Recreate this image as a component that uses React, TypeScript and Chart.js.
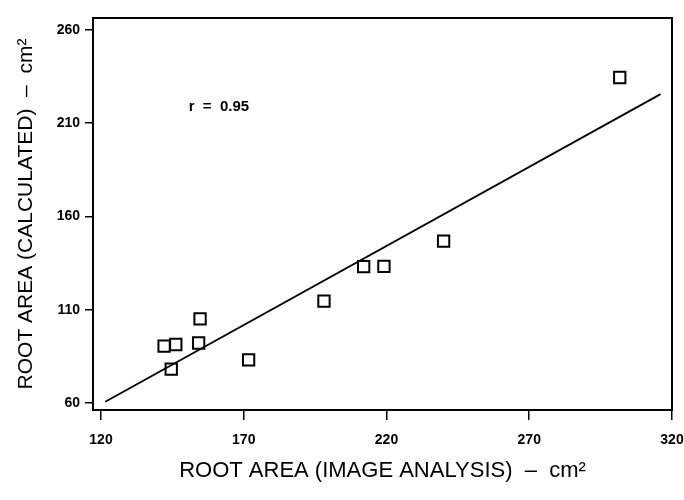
import React, { useEffect, useRef } from "react";
import { Chart, registerables } from "chart.js";

Chart.register(...registerables);

// Observed data points (image analysis vs calculated root area, cm²)
const imageArea = [142.1, 146.2, 154.7, 154.2, 144.6, 171.7, 198.1, 212.0, 219.1, 240.0, 301.7];
const calcArea = [90.5, 91.4, 105.1, 92.2, 78.2, 83.2, 114.7, 133.1, 133.3, 146.8, 234.5];

// Regression line end points
const fitX = [121.5, 316.0];
const fitY = [60.7, 225.6];

// Axis ticks
const xTicks = [120, 170, 220, 270, 320];
const yTicks = [60, 110, 160, 210, 260];
const xRange = [117.2, 320];
const yRange = [56.3, 266.4];

// Annotation
const rLabel = "r  =  0.95";
const rLabelPos = [161.3, 218.8];

const xTitle = "ROOT AREA (IMAGE ANALYSIS)  \u2013  cm\u00B2";
const yTitle = "ROOT AREA (CALCULATED)  \u2013  cm\u00B2";

const FONT = "'Liberation Sans', Arial, Helvetica, sans-serif";

export default function App() {
  const ref = useRef<HTMLCanvasElement | null>(null);

  useEffect(() => {
    if (!ref.current) return;

    const framePlugin = {
      id: "frame",
      afterDatasetsDraw(chart: any) {
        const { ctx, chartArea, scales } = chart;
        ctx.save();
        ctx.strokeStyle = "#000";
        ctx.lineWidth = 2;
        ctx.strokeRect(chartArea.left, chartArea.top, chartArea.right - chartArea.left, chartArea.bottom - chartArea.top);
        ctx.fillStyle = "#000";
        ctx.font = `bold 15px ${FONT}`;
        ctx.textAlign = "center";
        ctx.textBaseline = "middle";
        ctx.fillText(rLabel, scales.x.getPixelForValue(rLabelPos[0]), scales.y.getPixelForValue(rLabelPos[1]));
        ctx.restore();
      },
    };

    const chart = new Chart(ref.current, {
      type: "scatter",
      data: {
        datasets: [
          {
            type: "line",
            data: fitX.map((x, i) => ({ x, y: fitY[i] })),
            borderColor: "#000",
            borderWidth: 1.8,
            pointRadius: 0,
            fill: false,
            showLine: true,
          } as any,
          {
            data: imageArea.map((x, i) => ({ x, y: calcArea[i] })),
            pointStyle: "rect",
            pointRadius: 8,
            pointBorderWidth: 2,
            pointBorderColor: "#000",
            pointBackgroundColor: "rgba(255,255,255,0)",
            showLine: false,
          },
        ],
      },
      options: {
        animation: false,
        responsive: false,
        layout: { padding: { top: 18, right: 12, left: 0, bottom: 0 } },
        plugins: { legend: { display: false }, tooltip: { enabled: false } },
        scales: {
          x: {
            type: "linear",
            min: xRange[0],
            max: xRange[1],
            afterBuildTicks: (s: any) => {
              s.ticks = xTicks.map((v) => ({ value: v }));
            },
            afterFit: (s: any) => {
              s.height = 90;
              s.paddingLeft = 0;
              s.paddingRight = 0;
            },
            grid: { display: true, drawOnChartArea: false, drawTicks: true, tickLength: 10, color: "#000", lineWidth: 1.5 },
            border: { display: true, color: "#000", width: 2 },
            ticks: {
              color: "#000",
              font: { family: FONT, size: 14, weight: "bold" },
              padding: 12,
              maxRotation: 0,
              autoSkip: false,
            },
            title: {
              display: true,
              text: xTitle,
              color: "#000",
              font: { family: FONT, size: 22 },
              padding: { top: 0, bottom: 16 },
            },
          },
          y: {
            type: "linear",
            min: yRange[0],
            max: yRange[1],
            afterBuildTicks: (s: any) => {
              s.ticks = yTicks.map((v) => ({ value: v }));
            },
            afterFit: (s: any) => {
              s.width = 93;
              s.paddingTop = 0;
              s.paddingBottom = 0;
            },
            grid: { display: true, drawOnChartArea: false, drawTicks: true, tickLength: 8, color: "#000", lineWidth: 1.5 },
            border: { display: true, color: "#000", width: 2 },
            ticks: {
              color: "#000",
              font: { family: FONT, size: 14, weight: "bold" },
              padding: 5,
              autoSkip: false,
            },
            title: {
              display: true,
              text: yTitle,
              color: "#000",
              font: { family: FONT, size: 21 },
              padding: { top: 14, bottom: 0 },
            },
          },
        },
      } as any,
      plugins: [framePlugin],
    });

    return () => chart.destroy();
  }, []);

  return (
    <div style={{ position: "fixed", left: 0, top: 0, width: 684, height: 500, background: "#fff" }}>
      <canvas ref={ref} width={684} height={500} style={{ width: 684, height: 500 }} />
    </div>
  );
}
